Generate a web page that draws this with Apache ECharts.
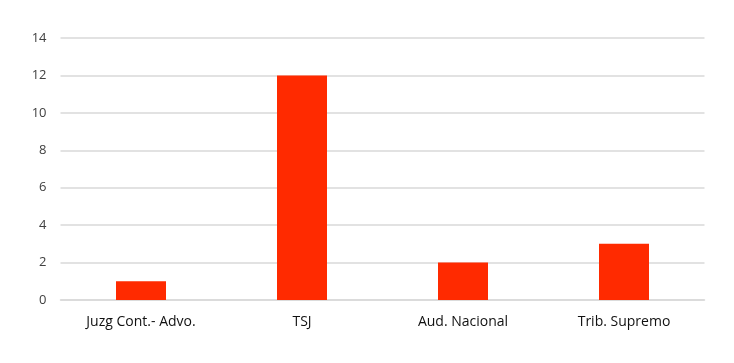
<!DOCTYPE html>
<html><head><meta charset="utf-8">
<script src="https://cdn.jsdelivr.net/npm/echarts@6/dist/echarts.min.js"></script>
<style>html,body{margin:0;padding:0;background:#fff}#c{width:734px;height:363px}</style>
</head><body><div id="c"></div>
<script>
const categories = ['Juzg Cont.- Advo.', 'TSJ', 'Aud. Nacional', 'Trib. Supremo'];
const values = [1, 12, 2, 3];
const yTicks = [0, 2, 4, 6, 8, 10, 12, 14];
const chart = echarts.init(document.getElementById('c'), null, {renderer: 'canvas'});
chart.setOption({
  animation: false,
  backgroundColor: '#fff',
  grid: {left: 60.5, right: 29.5, top: 38, bottom: 63, containLabel: false},
  xAxis: {
    type: 'category', data: categories,
    axisLine: {lineStyle: {color: '#d9d9d9', width: 1.5}},
    axisTick: {show: false},
    axisLabel: {color: '#111', fontFamily: 'Open Sans', fontSize: 14, margin: 15}
  },
  yAxis: {
    type: 'value', min: yTicks[0], max: yTicks[yTicks.length - 1], interval: 2,
    axisLine: {show: false}, axisTick: {show: false},
    splitLine: {lineStyle: {color: '#d9d9d9', width: 1.5}},
    axisLabel: {color: '#404040', fontFamily: 'Open Sans', fontSize: 13, margin: 14}
  },
  series: [{
    type: 'bar', data: values, barWidth: 50,
    itemStyle: {color: '#ff2a00'}
  }]
});
</script></body></html>
